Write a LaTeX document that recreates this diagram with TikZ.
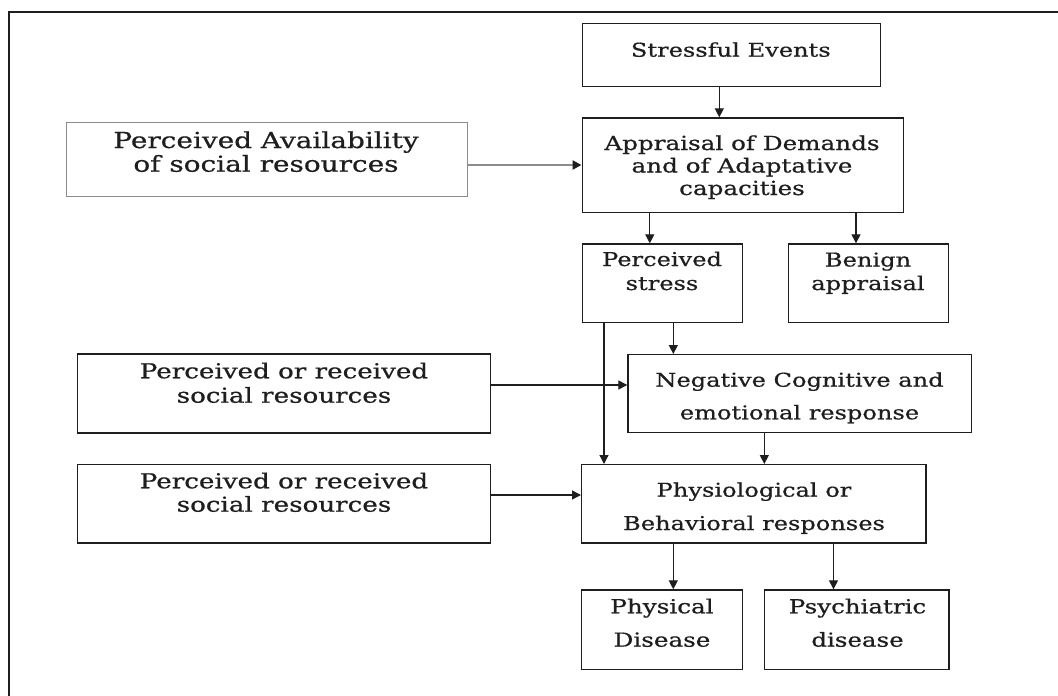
\documentclass[tikz,border=0pt]{standalone}
\usepackage{fontspec}
\setmainfont{DejaVu Serif}[FakeStretch=1.27, FakeBold=0.6]
\usetikzlibrary{arrows.meta}
\definecolor{ink}{HTML}{1E1E1E}
\definecolor{soft}{HTML}{8C8C8C}
\begin{document}
\begin{tikzpicture}[x=1pt,y=-1pt,
  box/.style={draw=ink, line width=1.3pt, rectangle, inner sep=0pt, anchor=north west},
  softbox/.style={box, draw=soft},
  txt/.style={anchor=base, inner sep=0pt, text=ink, font=\fontsize{#1}{23}\selectfont},
  txt/.default=19,
  arr/.style={draw=ink, line width=1.3pt, -{Triangle[length=9pt,width=9pt]}},
  softarr/.style={draw=soft, line width=2.4pt, -{Triangle[length=9pt,width=9pt,color=ink]}}]
\useasboundingbox (0,0) rectangle (1058,696);
\fill[white] (0,0) rectangle (1058,696);

% frame (top and left edges)
\draw[ink, line width=2pt] (9,696) -- (9,11.7) -- (1058,11.7);

% boxes
\node[box, minimum width=298.5pt, minimum height=63.3pt] (se) at (581.5,22.7) {};
\node[box, minimum width=321.2pt, minimum height=94.4pt] (ap) at (581.5,117.3) {};
\node[softbox, minimum width=401.5pt, minimum height=74.3pt] (pa) at (65.5,121.7) {};
\node[box, minimum width=160.5pt, minimum height=78.7pt] (ps) at (581.5,243.3) {};
\node[box, minimum width=160.5pt, minimum height=78.7pt] (ba) at (787.5,243.3) {};
\node[box, minimum width=343.2pt, minimum height=77.7pt] (ng) at (627.3,354) {};
\node[box, minimum width=413pt, minimum height=79pt] (pr1) at (77,353.3) {};
\node[box, minimum width=413pt, minimum height=78.3pt] (pr2) at (77,464) {};
\node[box, minimum width=344.3pt, minimum height=78.3pt] (ph) at (581,464) {};
\node[box, minimum width=161pt, minimum height=79.4pt] (pd) at (581,589.3) {};
\node[box, minimum width=184.3pt, minimum height=79.4pt] (pc) at (764,589.3) {};

% labels, one node per line
\node[txt] (se-1) at (730.8,56.7) {Stressful Events};
\node[txt=19.4] (ap-1) at (742,150) {Appraisal of Demands};
\node[txt=19.4] (ap-2) at (742,172.5) {and of Adaptative};
\node[txt=19.4] (ap-3) at (742,195) {capacities};
\node[txt=22] (pa-1) at (266,148) {Perceived Availability};
\node[txt=22] (pa-2) at (266,171.7) {of social resources};
\node[txt] (ps-1) at (662,266) {Perceived};
\node[txt] (ps-2) at (662,290) {stress};
\node[txt] (ba-1) at (868,266.5) {Benign};
\node[txt] (ba-2) at (868,290) {appraisal};
\node[txt] (ng-1) at (799.5,386.7) {Negative Cognitive and};
\node[txt] (ng-2) at (799.5,419.3) {emotional response};
\node[txt=20.6] (pr1-1) at (284,378.3) {Perceived or received};
\node[txt=20.6] (pr1-2) at (284,402.7) {social resources};
\node[txt=20.6] (pr2-1) at (284,488.3) {Perceived or received};
\node[txt=20.6] (pr2-2) at (284,511.7) {social resources};
\node[txt] (ph-1) at (754,496.7) {Physiological or};
\node[txt] (ph-2) at (754,530) {Behavioral responses};
\node[txt=19.4] (pd-1) at (662,613.3) {Physical};
\node[txt=19.4] (pd-2) at (662,646.7) {Disease};
\node[txt=19.3] (pc-1) at (857.5,613.3) {Psychiatric};
\node[txt=19.3] (pc-2) at (857.5,646.7) {disease};

% connector lanes
\coordinate (xa) at (719.3,0);
\coordinate (xb) at (649.8,0);
\coordinate (xc) at (856,0);
\coordinate (xd) at (673.3,0);
\coordinate (xe) at (604,0);
\coordinate (xf) at (764.3,0);
\coordinate (xg) at (833.5,0);
\coordinate (ya) at (0,165);
\coordinate (yb) at (0,385);
\coordinate (yc) at (0,495);

% connectors
\draw[arr] (se.south -| xa) -- (ap.north -| xa);
\draw[softarr] (pa.east |- ya) -- (ap.west |- ya);
\draw[arr] (ap.south -| xb) -- (ps.north -| xb);
\draw[arr] (ap.south -| xc) -- (ba.north -| xc);
\draw[arr] (ps.south -| xd) -- (ng.north -| xd);
\draw[arr] (ps.south -| xe) -- (ph.north -| xe);
\draw[arr] (pr1.east |- yb) -- (ng.west |- yb);
\draw[arr] (ng.south -| xf) -- (ph.north -| xf);
\draw[arr] (pr2.east |- yc) -- (ph.west |- yc);
\draw[arr] (ph.south -| xd) -- (pd.north -| xd);
\draw[arr] (ph.south -| xg) -- (pc.north -| xg);
\end{tikzpicture}
\end{document}
